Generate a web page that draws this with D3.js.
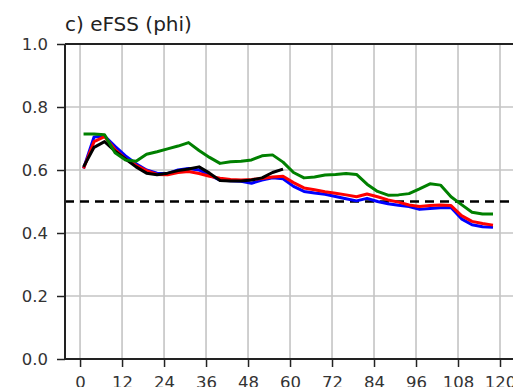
<!DOCTYPE html>
<html>
<head>
<meta charset="utf-8">
<script src="https://cdn.jsdelivr.net/npm/d3@7"></script>
<style>
  body { margin: 0; background: #fff; }
  svg { display: block; font-family: "DejaVu Sans", sans-serif; }
</style>
</head>
<body>
<script>
// forecast hours of the curves (every 3 h)
const hours = d3.range(1, 119, 3);

// eFSS values
const blueVals = [0.605, 0.705, 0.708, 0.675, 0.645, 0.620, 0.600, 0.590, 0.588, 0.600,
  0.605, 0.600, 0.584, 0.568, 0.566, 0.564, 0.558, 0.568, 0.575, 0.572,
  0.548, 0.532, 0.527, 0.523, 0.516, 0.509, 0.502, 0.510, 0.500, 0.493,
  0.488, 0.484, 0.475, 0.478, 0.480, 0.481, 0.445, 0.426, 0.420, 0.418];
const redVals = [0.605, 0.690, 0.706, 0.665, 0.635, 0.615, 0.598, 0.586, 0.585, 0.592,
  0.595, 0.589, 0.580, 0.574, 0.570, 0.568, 0.570, 0.573, 0.578, 0.580,
  0.560, 0.543, 0.537, 0.531, 0.526, 0.521, 0.515, 0.524, 0.515, 0.505,
  0.498, 0.489, 0.484, 0.487, 0.489, 0.487, 0.455, 0.437, 0.430, 0.425];
const blackVals = [0.610, 0.672, 0.690, 0.660, 0.635, 0.610, 0.590, 0.585, 0.590, 0.598,
  0.603, 0.610, 0.590, 0.567, 0.565, 0.565, 0.568, 0.575, 0.592, 0.603];
const greenVals = [0.714, 0.714, 0.712, 0.655, 0.632, 0.628, 0.650, 0.658, 0.667, 0.676,
  0.687, 0.662, 0.640, 0.621, 0.626, 0.628, 0.632, 0.645, 0.648, 0.625,
  0.592, 0.575, 0.578, 0.584, 0.586, 0.589, 0.586, 0.555, 0.532, 0.520,
  0.521, 0.525, 0.540, 0.556, 0.552, 0.515, 0.490, 0.466, 0.460, 0.460];

const xTicks = [0, 12, 24, 36, 48, 60, 72, 84, 96, 108, 120];
const yTicks = [0.0, 0.2, 0.4, 0.6, 0.8, 1.0];
const threshold = 0.5;
const title = "c) eFSS (phi)";

const width = 513;
const height = 387;

// scales
const xScale = d3.scaleLinear().domain([-4.3, 124]).range([65, 514]);
const yScale = d3.scaleLinear().domain([0, 1]).range([359, 44]);

const svg = d3.select('body')
  .append('svg')
  .attr('width', width)
  .attr('height', height);

// grid
svg.append('g')
  .selectAll('line')
  .data(xTicks)
  .join('line')
  .attr('x1', d => xScale(d))
  .attr('x2', d => xScale(d))
  .attr('y1', yScale(0))
  .attr('y2', yScale(1))
  .attr('stroke', '#c4c4c4')
  .attr('stroke-width', 1.6);

svg.append('g')
  .selectAll('line')
  .data(yTicks)
  .join('line')
  .attr('x1', xScale.range()[0])
  .attr('x2', xScale.range()[1])
  .attr('y1', d => yScale(d))
  .attr('y2', d => yScale(d))
  .attr('stroke', '#c4c4c4')
  .attr('stroke-width', 1.6);

// threshold line
svg.append('line')
  .attr('x1', xScale.range()[0])
  .attr('x2', xScale.range()[1])
  .attr('y1', yScale(threshold))
  .attr('y2', yScale(threshold))
  .attr('stroke', '#000')
  .attr('stroke-width', 2.4)
  .attr('stroke-dasharray', '9,6');

// curves
const line = d3.line()
  .x((d, i) => xScale(hours[i]))
  .y(d => yScale(d));

const series = [
  { vals: blueVals, color: '#0000ff' },
  { vals: redVals, color: '#ff0000' },
  { vals: blackVals, color: '#000000' },
  { vals: greenVals, color: '#008000' }
];

svg.append('g')
  .selectAll('path')
  .data(series)
  .join('path')
  .attr('d', d => line(d.vals))
  .attr('fill', 'none')
  .attr('stroke', d => d.color)
  .attr('stroke-width', 3)
  .attr('stroke-linejoin', 'round');

// axes
const yAxis = d3.axisLeft(yScale)
  .tickValues(yTicks)
  .tickFormat(d3.format('.1f'))
  .tickSize(8)
  .tickPadding(9);

const gy = svg.append('g')
  .attr('transform', `translate(${xScale.range()[0]},0)`)
  .call(yAxis);

const xAxis = d3.axisBottom(xScale)
  .tickValues(xTicks)
  .tickSize(8)
  .tickPadding(9);

const gx = svg.append('g')
  .attr('transform', `translate(0,${yScale(0)})`)
  .call(xAxis);

[gx, gy].forEach(g => {
  g.select('.domain').remove();
  g.selectAll('line').attr('stroke', '#222').attr('stroke-width', 1.5);
  g.selectAll('text')
    .attr('fill', '#333')
    .style('font-size', '16.5px')
    .style('font-family', '"DejaVu Sans", sans-serif');
});

// spines
svg.append('line')
  .attr('x1', xScale.range()[0]).attr('x2', xScale.range()[0])
  .attr('y1', yScale(1)).attr('y2', yScale(0))
  .attr('stroke', '#222').attr('stroke-width', 2);
svg.append('line')
  .attr('x1', xScale.range()[0]).attr('x2', xScale.range()[1])
  .attr('y1', yScale(0)).attr('y2', yScale(0))
  .attr('stroke', '#222').attr('stroke-width', 2);
svg.append('line')
  .attr('x1', xScale.range()[0]).attr('x2', xScale.range()[1])
  .attr('y1', yScale(1)).attr('y2', yScale(1))
  .attr('stroke', '#222').attr('stroke-width', 2);

// title
svg.append('text')
  .attr('x', 65)
  .attr('y', 31)
  .attr('fill', '#222')
  .style('font-size', '20px')
  .text(title);
</script>
</body>
</html>
